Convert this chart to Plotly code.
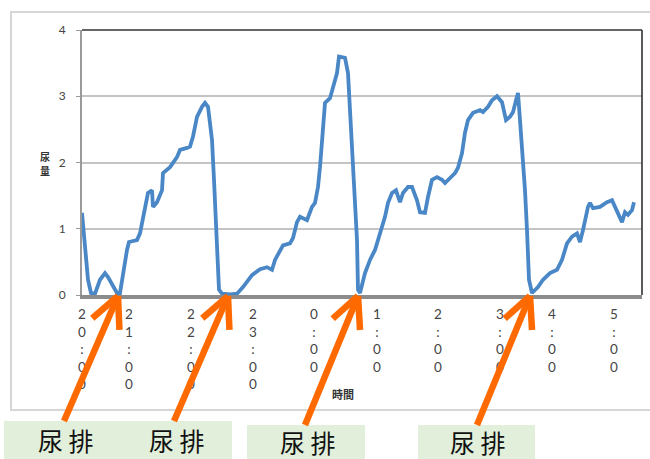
import plotly.graph_objects as go
import math

# ---- data (sample index along the recording, urine volume) ----
sample = [0, 3, 6, 9, 13, 18, 23, 26, 31, 35, 38, 41, 45, 47, 55, 58, 61, 66, 70, 71, 75, 80, 81, 88,
          95, 98, 105, 108, 111, 115, 120, 123, 126, 130, 132, 135, 137, 140, 148, 155, 161, 170, 178,
          185, 190, 193, 198, 201, 208, 211, 215, 218, 225, 230, 233, 236, 238, 240, 243, 248, 251, 255,
          257, 263, 266, 268, 271, 275, 276, 278, 283, 288, 293, 298, 303, 306, 310, 314, 318, 321, 326,
          330, 335, 338, 343, 346, 350, 355, 360, 363, 368, 373, 376, 380, 383, 386, 391, 398, 401, 406,
          410, 415, 420, 424, 428, 431, 434, 436, 438, 441, 443, 445, 447, 450, 456, 461, 468, 475, 480,
          485, 490, 495, 498, 501, 506, 508, 511, 518, 525, 530, 533, 536, 540, 543, 546, 550, 552]
volume = [1.24, 0.72, 0.23, 0.03, 0.02, 0.23, 0.33, 0.27, 0.12, 0.03, 0.03, 0.33, 0.68, 0.80, 0.83, 0.93,
          1.18, 1.54, 1.58, 1.33, 1.40, 1.58, 1.84, 1.93, 2.08, 2.19, 2.22, 2.24, 2.39, 2.69, 2.84, 2.90,
          2.84, 2.34, 1.74, 0.72, 0.08, 0.02, 0.01, 0.02, 0.12, 0.30, 0.39, 0.42, 0.38, 0.53, 0.68, 0.75,
          0.78, 0.86, 1.10, 1.18, 1.13, 1.33, 1.39, 1.63, 1.93, 2.34, 2.90, 2.97, 3.14, 3.35, 3.60, 3.58,
          3.35, 2.84, 1.84, 0.83, 0.08, 0.03, 0.33, 0.53, 0.68, 0.93, 1.18, 1.39, 1.54, 1.58, 1.40, 1.54,
          1.63, 1.63, 1.43, 1.25, 1.24, 1.48, 1.74, 1.78, 1.74, 1.69, 1.77, 1.84, 1.92, 2.14, 2.45, 2.64,
          2.75, 2.79, 2.76, 2.84, 2.94, 3.00, 2.91, 2.64, 2.69, 2.76, 2.94, 3.05, 2.64, 2.08, 1.58, 0.98,
          0.23, 0.03, 0.12, 0.23, 0.33, 0.38, 0.53, 0.78, 0.88, 0.93, 0.80, 0.98, 1.33, 1.39, 1.31, 1.33,
          1.40, 1.43, 1.33, 1.24, 1.10, 1.25, 1.21, 1.28, 1.40]

tick_samples = [0, 47, 109, 171, 232, 295, 356, 418, 470, 532]
tick_labels = ["20:00", "21:00", "22:00", "23:00", "0:00", "1:00", "2:00", "3:00", "4:00", "5:00"]
y_ticks = [0, 1, 2, 3, 4]

callout_text = ["尿 排", "尿 排", "尿 排", "尿 排"]

# ---- layout geometry (pixels) ----
W, H = 650, 459
L, R, T, B = 82, 8, 30, 164
PW, PH = W - L - R, H - T - B


def px(x):
    return (x - L) / PW


def py(y):
    return (T + PH - y) / PH


fig = go.Figure()
fig.add_trace(go.Scatter(x=sample, y=volume, mode="lines",
                         line=dict(color="#4a87c6", width=3.8), showlegend=False,
                         cliponaxis=False))

shapes = []
# outer chart frame
shapes.append(dict(type="rect", xref="paper", yref="paper", x0=px(11), x1=px(660), y0=py(12), y1=py(410),
                   line=dict(color="#d6d6d6", width=2), fillcolor="rgba(0,0,0,0)", layer="below"))
# plot border top/right
shapes.append(dict(type="line", xref="paper", yref="paper", x0=0, x1=1, y0=1, y1=1,
                   line=dict(color="#333333", width=1.6)))
shapes.append(dict(type="line", xref="paper", yref="paper", x0=1, x1=1, y0=0, y1=1,
                   line=dict(color="#333333", width=1.6)))

# green callout boxes
boxes = [(4, 120, 421), (120, 232, 421), (247, 365, 425), (418, 535, 425)]
for x0, x1, y0 in boxes:
    shapes.append(dict(type="rect", xref="paper", yref="paper", x0=px(x0), x1=px(x1), y0=py(y0), y1=py(470),
                       line=dict(width=0), fillcolor="#e2efda", layer="above"))

# orange arrows (tail -> head)
arrows = [((64, 421), (118, 296)), ((174, 421), (228, 296)), ((305, 425), (358, 296)), ((477, 425), (530, 296))]
orange = "#ff6a00"
for (tx, ty), (hx, hy) in arrows:
    shapes.append(dict(type="line", xref="paper", yref="paper", x0=px(tx), y0=py(ty), x1=px(hx), y1=py(hy),
                       line=dict(color=orange, width=6.5)))
    ang = math.atan2(ty - hy, tx - hx)
    for d in (-0.45, 0.45):
        ex = hx + 34 * math.cos(ang + d)
        ey = hy + 34 * math.sin(ang + d)
        shapes.append(dict(type="line", xref="paper", yref="paper", x0=px(hx), y0=py(hy), x1=px(ex), y1=py(ey),
                           line=dict(color=orange, width=6.5)))

annotations = []
text_pos = [(66, 440), (177, 440), (308, 442), (478, 442)]
for (x, y), t in zip(text_pos, callout_text):
    annotations.append(dict(x=px(x), y=py(y), xref="paper", yref="paper", text=t, showarrow=False,
                            xanchor="center", yanchor="middle",
                            font=dict(family="Noto Sans CJK JP", size=25, color="#111111")))
annotations.append(dict(x=px(343), y=py(394), xref="paper", yref="paper", text="<b>時間</b>", showarrow=False,
                        xanchor="center", yanchor="middle",
                        font=dict(family="Noto Sans CJK JP", size=11, color="#333333")))
for ch, yy in (("尿", 156), ("量", 170)):
    annotations.append(dict(x=px(45), y=py(yy), xref="paper", yref="paper", text="<b>" + ch + "</b>",
                            showarrow=False, xanchor="center", yanchor="middle",
                            font=dict(family="Noto Sans CJK JP", size=10, color="#333333")))

fig.update_layout(
    width=W, height=H,
    margin=dict(l=L, r=R, t=T, b=B),
    paper_bgcolor="white", plot_bgcolor="white",
    shapes=shapes, annotations=annotations,
    xaxis=dict(range=[0, PW], tickmode="array", tickvals=tick_samples,
               ticktext=["<br>".join(list(s)) for s in tick_labels],
               showgrid=False, zeroline=False, showline=True, linecolor="#8c8c8c", linewidth=4,
               ticks="", tickfont=dict(family="Lato", size=13.5, color="#444444"), ticklabelstandoff=4),
    yaxis=dict(range=[0, 4], tickmode="array", tickvals=y_ticks,
               showgrid=True, gridcolor="#c4c4c4", gridwidth=2, zeroline=False,
               showline=True, linecolor="#9a9a9a", linewidth=2,
               ticks="outside", ticklen=4, tickcolor="#9a9a9a",
               tickfont=dict(family="Lato", size=12, color="#444444"), ticklabelstandoff=8),
)

fig.write_html("out.html")
